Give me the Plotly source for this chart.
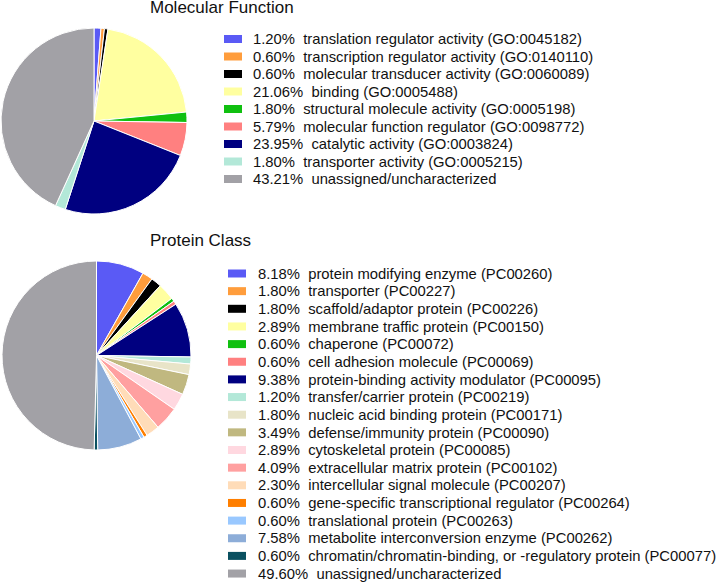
import plotly.graph_objects as go

# ---------------- data ----------------
mf_title = "Molecular Function"
mf_labels = [
    "translation regulator activity (GO:0045182)",
    "transcription regulator activity (GO:0140110)",
    "molecular transducer activity (GO:0060089)",
    "binding (GO:0005488)",
    "structural molecule activity (GO:0005198)",
    "molecular function regulator (GO:0098772)",
    "catalytic activity (GO:0003824)",
    "transporter activity (GO:0005215)",
    "unassigned/uncharacterized",
]
mf_values = [1.20, 0.60, 0.60, 21.06, 1.80, 5.79, 23.95, 1.80, 43.21]
mf_colors = ["#5a5af5", "#ff9d3c", "#000000", "#ffffa0", "#10c010",
             "#ff8080", "#000080", "#b3e8d8", "#a2a1a6"]

pc_title = "Protein Class"
pc_labels = [
    "protein modifying enzyme (PC00260)",
    "transporter (PC00227)",
    "scaffold/adaptor protein (PC00226)",
    "membrane traffic protein (PC00150)",
    "chaperone (PC00072)",
    "cell adhesion molecule (PC00069)",
    "protein-binding activity modulator (PC00095)",
    "transfer/carrier protein (PC00219)",
    "nucleic acid binding protein (PC00171)",
    "defense/immunity protein (PC00090)",
    "cytoskeletal protein (PC00085)",
    "extracellular matrix protein (PC00102)",
    "intercellular signal molecule (PC00207)",
    "gene-specific transcriptional regulator (PC00264)",
    "translational protein (PC00263)",
    "metabolite interconversion enzyme (PC00262)",
    "chromatin/chromatin-binding, or -regulatory protein (PC00077)",
    "unassigned/uncharacterized",
]
pc_values = [8.18, 1.80, 1.80, 2.89, 0.60, 0.60, 9.38, 1.20, 1.80, 3.49,
             2.89, 4.09, 2.30, 0.60, 0.60, 7.58, 0.60, 49.60]
pc_colors = ["#5a5af5", "#ff9d3c", "#000000", "#ffffa0", "#10c010",
             "#ff8080", "#000080", "#b3e8d8", "#e8e4c8", "#c0b880",
             "#ffd8e0", "#ffa0a0", "#ffdcb8", "#ff7f00", "#99c8ff",
             "#8dadd8", "#0a5060", "#a2a1a6"]

# ---------------- layout constants ----------------
W, H = 728, 582
FONT = "Liberation Sans, Arial, sans-serif"
FS = 14.8
SW_LEN = 18
SW_H = 8

fig = go.Figure()


def add_block(labels, values, colors, pie_box, sw_x, txt_x, row0, step):
    x0, y0, x1, y1 = pie_box  # pixel box (left, top, right, bottom)
    fig.add_trace(go.Pie(
        labels=labels, values=values, sort=False, direction="clockwise",
        rotation=0, textinfo="none", hoverinfo="label+percent",
        marker=dict(colors=colors, line=dict(color="white", width=1)),
        domain=dict(x=[x0 / W, x1 / W], y=[1 - y1 / H, 1 - y0 / H]),
        showlegend=False,
    ))
    ys = [row0 + i * step for i in range(len(labels))]
    texts = [f"{v:.2f}%\u00a0 {lab}" for v, lab in zip(values, labels)]
    fig.add_trace(go.Scatter(
        x=[sw_x] * len(labels), y=ys, mode="markers",
        marker=dict(symbol="line-ew", size=SW_LEN / 1.4,
                    line=dict(color=colors, width=SW_H)),
        showlegend=False, hoverinfo="skip",
    ))
    fig.add_trace(go.Scatter(
        x=[txt_x] * len(labels), y=[y + 1.5 for y in ys], mode="text",
        text=texts, textposition="middle right",
        textfont=dict(family=FONT, size=FS, color="#111111"),
        showlegend=False, hoverinfo="skip",
    ))


add_block(mf_labels, mf_values, mf_colors, (1, 28, 187, 214), 233, 253, 39, 17.5)
add_block(pc_labels, pc_values, pc_colors, (2, 261, 191, 450), 237, 258, 273.5, 17.65)

for title, ty in [(mf_title, 7.5), (pc_title, 240.5)]:
    fig.add_annotation(
        x=148, y=ty, xref="x", yref="y", text=title, showarrow=False,
        xanchor="left", yanchor="middle",
        font=dict(family=FONT, size=17, color="#111111"),
    )

fig.update_layout(
    width=W, height=H, margin=dict(l=0, r=0, t=0, b=0),
    paper_bgcolor="white", plot_bgcolor="white",
    xaxis=dict(range=[0, W], visible=False, fixedrange=True),
    yaxis=dict(range=[H, 0], visible=False, fixedrange=True),
    showlegend=False,
)

fig.write_html(
    "out.html",
    config={"displayModeBar": False},
    post_script="document.body.style.margin='0px';document.body.style.overflow='hidden';",
)
